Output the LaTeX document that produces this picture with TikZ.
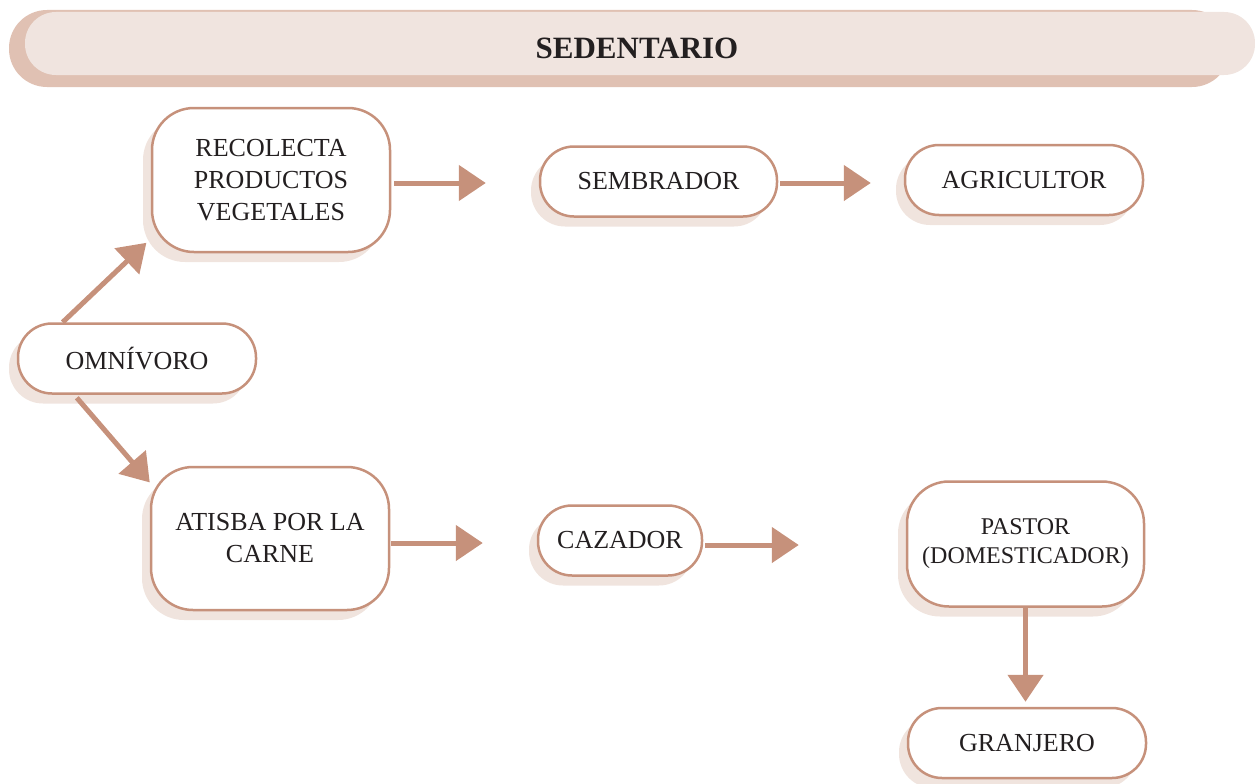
\documentclass[tikz,border=0pt]{standalone}
\usepackage{fontspec}
\setmainfont{Liberation Serif}
\usetikzlibrary{arrows.meta}
\usetikzlibrary{shadows}
\usetikzlibrary{positioning}

\definecolor{borde}{HTML}{C6917B}
\definecolor{sombra}{HTML}{F0E4DE}
\definecolor{banda}{HTML}{F0E4DF}
\definecolor{bandasombra}{HTML}{E0C1B3}
\definecolor{texto}{HTML}{231F20}

\tikzset{
  caja/.style={draw=borde, line width=2.5pt, fill=white, rounded corners=34pt,
    align=center, text=texto, font=\fontsize{26}{32}\selectfont,
    minimum width=238pt, minimum height=70pt, inner sep=0pt,
    drop shadow={shadow xshift=-9pt, shadow yshift=-10pt, fill=sombra, opacity=1}},
  cajaalta/.style={caja, minimum height=144pt, rounded corners=42pt},
  flecha/.style={draw=borde, line width=5pt, -{Triangle[length=27pt,width=35pt]}},
}

\begin{document}
\begin{tikzpicture}[x=1pt,y=-1pt]
\useasboundingbox (0,0) rectangle (1255,784);

% banda superior
\fill[bandasombra, rounded corners=38pt] (9,10) rectangle (1230,87);
\fill[banda, rounded corners=31pt] (25,12) rectangle (1255,75);
\node[text=texto, font=\fontsize{31}{36}\selectfont\bfseries] (titulo) at (637,48) {SEDENTARIO};

% cajas
\node[caja] (omni) at (137,358.5) {OMNÍVORO};
\node[cajaalta] (reco) at (271,180) {RECOLECTA\\PRODUCTOS\\VEGETALES};
\node[caja, minimum width=237pt] (semb) at (658.5,181.5) {SEMBRADOR};
\node[caja] (agri) at (1024,180) {AGRICULTOR};
\node[cajaalta, minimum height=143pt] (atis) at (270,538.5) {ATISBA POR LA\\CARNE};
\node[caja, minimum width=164pt] (caza) at (620,540.5) {CAZADOR};
\node[cajaalta, minimum height=125pt, minimum width=237pt,
  font=\fontsize{24}{29}\selectfont] (past) at (1025.5,544) {PASTOR\\(DOMESTICADOR)};
\node[caja] (gran) at (1027,743) {GRANJERO};

% flechas
\draw[flecha, shorten >=6pt] (omni.154) -- (reco.-154);
\draw[flecha, shorten <=4pt] (omni.-150) -- (atis.155);
\draw[flecha, shorten <=3pt, shorten >=53pt] ([yshift=-3pt]reco.east) -- ([yshift=-3pt]reco.east -| semb.west);
\draw[flecha, shorten <=2pt, shorten >=33pt] ([yshift=-1.5pt]semb.east) -- ([yshift=-1.5pt]semb.east -| agri.west);
\draw[flecha, shorten <=1pt, shorten >=54pt] ([yshift=-4.5pt]atis.east) -- ([yshift=-4.5pt]atis.east -| caza.west);
\draw[flecha, shorten <=2pt, shorten >=107pt] ([yshift=-4.5pt]caza.east) -- ([yshift=-4.5pt]caza.east -| past.west);
\draw[flecha, shorten >=5pt] (past.south) -- (past.south |- gran.north);
\end{tikzpicture}
\end{document}
